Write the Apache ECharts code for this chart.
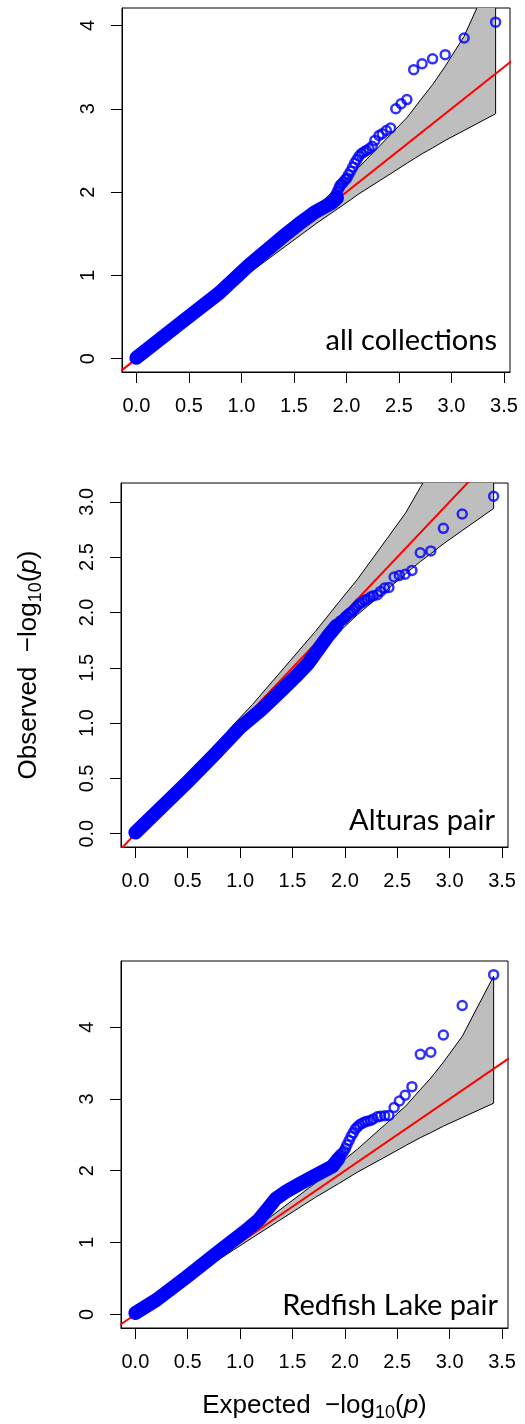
<!DOCTYPE html>
<html>
<head>
<meta charset="utf-8">
<script src="https://cdn.jsdelivr.net/npm/echarts@6/dist/echarts.min.js"></script>
<style>
html, body { margin: 0; padding: 0; background: #fff; }
#qq { width: 525px; height: 1424px; }
</style>
</head>
<body>
<div id="qq"></div>
<script>
"use strict";

// tick values
var xTicks = [0, 0.5, 1, 1.5, 2, 2.5, 3, 3.5];
var yTicksAll = [0, 1, 2, 3, 4];
var yTicksAlt = [0, 0.5, 1, 1.5, 2, 2.5, 3];
var yTicksRed = [0, 1, 2, 3, 4];

// 90% band (same in all three)
var bandX    = [0, 0.2, 0.42, 0.72, 0.94, 1.12, 1.42, 1.72, 1.94, 2.12, 2.42, 2.58, 2.72, 2.82, 2.94, 3.12, 3.42];
var bandLow  = [0, 0.19, 0.40, 0.69, 0.90, 1.07, 1.35, 1.63, 1.82, 1.98, 2.22, 2.35, 2.46, 2.53, 2.62, 2.74, 2.94];
var bandHigh = [0, 0.21, 0.44, 0.75, 0.99, 1.17, 1.50, 1.83, 2.09, 2.30, 2.69, 2.90, 3.13, 3.29, 3.51, 3.87, 4.71];

// y = x reference
var diagX = [-1, 6];

// expected values of the separate points at the top end
var tailExp = [3.42, 3.12, 2.94, 2.82, 2.72, 2.64, 2.575, 2.52, 2.47, 2.42, 2.38, 2.34, 2.31, 2.27, 2.245, 2.215, 2.19,
               2.165, 2.14, 2.12, 2.10, 2.08, 2.06, 2.04, 2.02, 2.005, 1.99, 1.97, 1.955, 1.94, 1.93, 1.915, 1.90];

// all collections
var allTail = [4.04, 3.85, 3.65, 3.60, 3.54, 3.47, 3.11, 3.06, 3.00, 2.77, 2.74, 2.70, 2.68, 2.62, 2.55, 2.52, 2.50,
               2.48, 2.46, 2.43, 2.39, 2.35, 2.30, 2.25, 2.21, 2.17, 2.15, 2.12, 2.10, 2.08, 2.05, 2.01, 1.97];
var allBulkExp = [0, 0.47, 0.79, 1.07, 1.39, 1.55, 1.70, 1.86, 1.91];
var allBulkObs = [0.01, 0.475, 0.79, 1.12, 1.46, 1.62, 1.76, 1.87, 1.93];

// Alturas pair
var altTail = [3.05, 2.89, 2.76, 2.556, 2.54, 2.38, 2.345, 2.335, 2.32, 2.225, 2.22, 2.19, 2.16, 2.15, 2.14, 2.12, 2.11,
               2.09, 2.08, 2.06, 2.04, 2.02, 2.0, 1.99, 1.97, 1.96, 1.94, 1.93, 1.92, 1.90];
var altBulkExp = [0, 0.25, 0.5, 0.75, 1.0, 1.2, 1.4, 1.55, 1.65, 1.75, 1.84, 1.92];
var altBulkObs = [0.01, 0.24, 0.47, 0.71, 0.96, 1.12, 1.30, 1.44, 1.54, 1.67, 1.79, 1.88];

// Redfish Lake pair
var redTail = [4.73, 4.30, 3.89, 3.65, 3.62, 3.17, 3.05, 2.97, 2.88, 2.77, 2.765, 2.76, 2.75, 2.72, 2.70, 2.69, 2.68,
               2.66, 2.64, 2.61, 2.58, 2.53, 2.48, 2.42, 2.36, 2.31, 2.27, 2.24, 2.22];
var redBulkExp = [0, 0.2, 0.48, 0.8, 1.05, 1.18, 1.27, 1.34, 1.45, 1.56, 1.7, 1.88, 1.94];
var redBulkObs = [0.02, 0.2, 0.51, 0.88, 1.16, 1.32, 1.48, 1.61, 1.72, 1.81, 1.92, 2.06, 2.17];

var panelNames = ["all collections", "Alturas pair", "Redfish Lake pair"];

function zip(xs, ys) {
	var out = [];
	for (var i = 0; i < ys.length; i++) {
		out.push([xs[i], ys[i]]);
	}
	return out;
}

var tickFont = "Liberation Sans";
var grids = [
	{ left: 122, top: 8, width: 388, height: 364 },
	{ left: 121, top: 483, width: 387, height: 364 },
	{ left: 121, top: 961, width: 387, height: 367 }
];
var yRanges = [[-0.16, 4.21], [-0.12, 3.17], [-0.19, 4.92]];
var yTickSets = [yTicksAll, yTicksAlt, yTicksRed];
var yFormats = [function (v) { return String(v); },
                function (v) { return v.toFixed(1); },
                function (v) { return String(v); }];
var panels = [
	{ tail: allTail, bulk: zip(allBulkExp, allBulkObs) },
	{ tail: altTail, bulk: zip(altBulkExp, altBulkObs) },
	{ tail: redTail, bulk: zip(redBulkExp, redBulkObs) }
];

var nameRich = {
	m: { fontSize: 26, fontFamily: tickFont, color: "#000", lineHeight: 32 },
	s: { fontSize: 18, fontFamily: tickFont, color: "#000", lineHeight: 18, verticalAlign: "bottom" },
	i: { fontSize: 26, fontFamily: tickFont, fontStyle: "italic", color: "#000", lineHeight: 32 }
};

var xAxes = [], yAxes = [], series = [], titles = [];
var titleTops = [326, 806, 1291];
var titleRights = [28, 30, 27];

for (var k = 0; k < 3; k++) {
	var xa = {
		gridIndex: k, type: "value", min: -0.137, max: 3.557,
		axisLine: { show: true, onZero: false, lineStyle: { color: "#000", width: 1 } },
		axisTick: { show: true, length: 11, customValues: xTicks, lineStyle: { color: "#000", width: 1 } },
		axisLabel: { show: true, customValues: xTicks, margin: 24, fontSize: 20, fontFamily: tickFont, color: "#000",
			formatter: function (v) { return v.toFixed(1); } },
		splitLine: { show: false }
	};
	if (k === 2) {
		xa.name = "{m|Expected  \u2212log}{s|10}{m|(}{i|p}{m|)}";
		xa.nameLocation = "middle";
		xa.nameGap = 62;
		xa.nameTextStyle = { rich: nameRich };
	}
	xAxes.push(xa);

	var ya = {
		gridIndex: k, type: "value", min: yRanges[k][0], max: yRanges[k][1],
		axisLine: { show: true, onZero: false, lineStyle: { color: "#000", width: 1 } },
		axisTick: { show: true, length: 11, customValues: yTickSets[k], lineStyle: { color: "#000", width: 1 } },
		axisLabel: { show: true, customValues: yTickSets[k], rotate: 90, margin: 24, fontSize: 20, fontFamily: tickFont,
			color: "#000", formatter: yFormats[k] },
		splitLine: { show: false }
	};
	if (k === 1) {
		ya.name = "{m|Observed  \u2212log}{s|10}{m|(}{i|p}{m|)}";
		ya.nameLocation = "middle";
		ya.nameRotate = 90;
		ya.nameGap = 76;
		ya.nameTextStyle = { rich: nameRich };
	}
	yAxes.push(ya);

	// grey band
	series.push({
		type: "custom", xAxisIndex: k, yAxisIndex: k, clip: true, silent: true, z: 1,
		data: [0],
		renderItem: function (params, api) {
			var pts = [];
			for (var i = 0; i < bandX.length; i++) {
				pts.push(api.coord([bandX[i], bandHigh[i]]));
			}
			for (var j = bandX.length - 1; j >= 0; j--) {
				pts.push(api.coord([bandX[j], bandLow[j]]));
			}
			return { type: "polygon", shape: { points: pts },
				style: { fill: "#bebebe", stroke: "#000", lineWidth: 1 } };
		}
	});
	// red y = x
	series.push({
		type: "line", xAxisIndex: k, yAxisIndex: k, data: zip(diagX, diagX), symbol: "none", clip: true,
		silent: true, z: 2, lineStyle: { color: "#ff0000", width: 2 }
	});
	// the overlapping bulk of points
	series.push({
		type: "line", xAxisIndex: k, yAxisIndex: k, data: panels[k].bulk, symbol: "none", silent: true, z: 3,
		lineStyle: { color: "#0000ff", width: 14, cap: "round", join: "round" }
	});
	// separate points
	series.push({
		type: "scatter", xAxisIndex: k, yAxisIndex: k, data: zip(tailExp, panels[k].tail), symbol: "circle",
		symbolSize: 9, silent: true, z: 4,
		itemStyle: { color: "rgba(0,0,0,0)", borderColor: "#0000ff", borderWidth: 2.5 }
	});

	titles.push({
		text: panelNames[k], right: titleRights[k], top: titleTops[k], padding: 0,
		textStyle: { fontFamily: "Lato", fontSize: 29, fontWeight: "normal", color: "#000" }
	});
}

var grid = [];
for (var g = 0; g < 3; g++) {
	grid.push({ left: grids[g].left, top: grids[g].top, width: grids[g].width, height: grids[g].height,
		show: true, borderColor: "#000", borderWidth: 1, backgroundColor: "transparent" });
}

var myChart = echarts.init(document.getElementById("qq"), null, { renderer: "canvas" });
myChart.setOption({
	backgroundColor: "#fff",
	animation: false,
	title: titles,
	grid: grid,
	xAxis: xAxes,
	yAxis: yAxes,
	series: series
});
</script>
</body>
</html>
